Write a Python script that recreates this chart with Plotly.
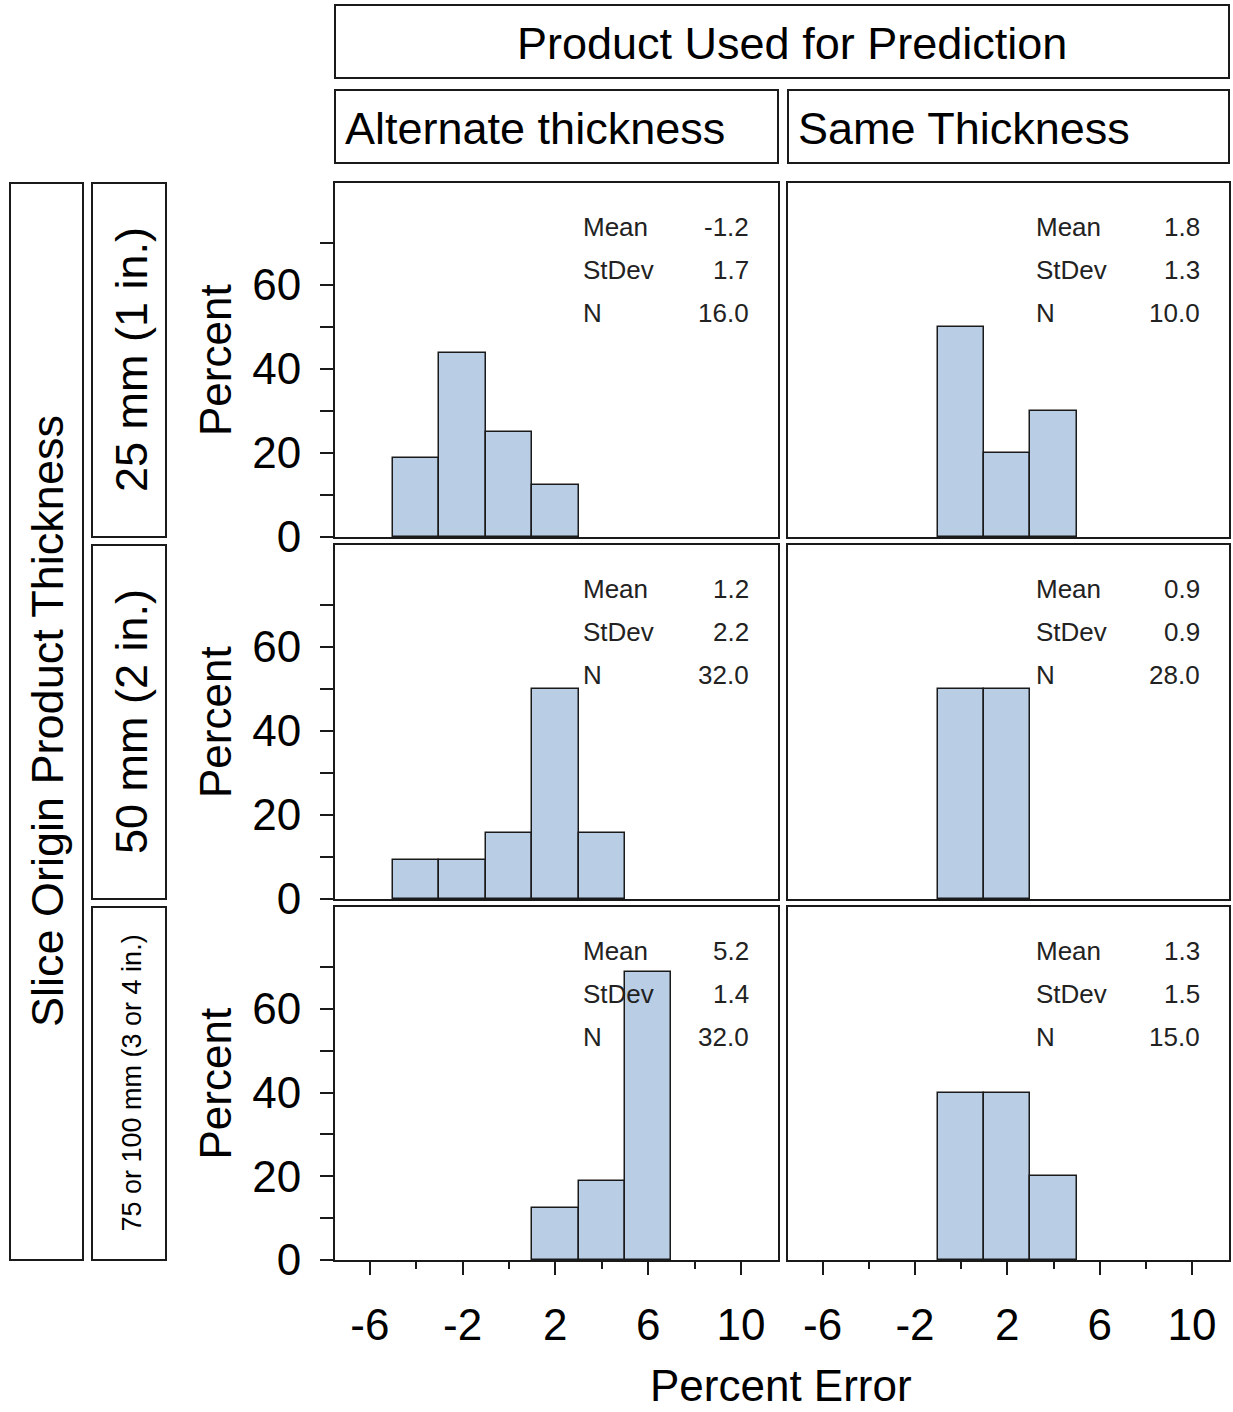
import plotly.graph_objects as go

W, H = 1233, 1412

# ---------------- data ----------------
col_names = ["Alternate thickness", "Same Thickness"]
row_names = ["25 mm (1 in.)", "50 mm (2 in.)", "75 or 100 mm (3 or 4 in.)"]

bin_width = 2

alt_25_x = [-4, -2, 0, 2]
alt_25_pct = [18.75, 43.75, 25.0, 12.5]
same_25_x = [0, 2, 4]
same_25_pct = [50.0, 20.0, 30.0]

alt_50_x = [-4, -2, 0, 2, 4]
alt_50_pct = [9.375, 9.375, 15.625, 50.0, 15.625]
same_50_x = [0, 2]
same_50_pct = [50.0, 50.0]

alt_75_x = [2, 4, 6]
alt_75_pct = [12.5, 18.75, 68.75]
same_75_x = [0, 2, 4]
same_75_pct = [40.0, 40.0, 20.0]

stat_labels = ["Mean", "StDev", "N"]
alt_25_stats = ["-1.2", "1.7", "16.0"]
same_25_stats = ["1.8", "1.3", "10.0"]
alt_50_stats = ["1.2", "2.2", "32.0"]
same_50_stats = ["0.9", "0.9", "28.0"]
alt_75_stats = ["5.2", "1.4", "32.0"]
same_75_stats = ["1.3", "1.5", "15.0"]

x_tickvals = [-6, -2, 2, 6, 10]
x_minor = [-4, 0, 4, 8]
y_tickvals = [0, 20, 40, 60]
y_minor = [10, 30, 50, 70]

panels = [
    [(alt_25_x, alt_25_pct, alt_25_stats), (same_25_x, same_25_pct, same_25_stats)],
    [(alt_50_x, alt_50_pct, alt_50_stats), (same_50_x, same_50_pct, same_50_stats)],
    [(alt_75_x, alt_75_pct, alt_75_stats), (same_75_x, same_75_pct, same_75_stats)],
]

# ---------------- layout geometry (pixels) ----------------
col_px = [(335, 778), (788, 1229)]
row_px = [(183, 537), (545, 899), (907, 1260)]

FONT = "Liberation Sans, Arial, sans-serif"
BAR_FILL = "#B9CDE5"
LINE = "#1a1a1a"


def px(x):
    return x / W


def py(y):
    return 1 - y / H


fig = go.Figure()
layout = {}
annotations = []
shapes = []

for r in range(3):
    for c in range(2):
        k = r * 2 + c + 1
        xs, ys, st = panels[r][c]
        xname = "x" if k == 1 else f"x{k}"
        yname = "y" if k == 1 else f"y{k}"
        fig.add_trace(go.Bar(
            x=xs, y=ys, width=bin_width,
            marker=dict(color=BAR_FILL, line=dict(color=LINE, width=1.5)),
            xaxis=xname, yaxis=yname, showlegend=False, hoverinfo="skip",
        ))
        x0, x1 = col_px[c]
        y0, y1 = row_px[r]
        xa = dict(
            domain=[px(x0), px(x1)], anchor=yname, range=[-7.5, 11.6],
            showline=True, mirror=True, linecolor=LINE, linewidth=2,
            showgrid=False, zeroline=False, fixedrange=True, automargin=False,
        )
        if r == 2:
            xa.update(
                ticks="outside", ticklen=13, tickwidth=2, tickcolor=LINE,
                tickvals=x_tickvals, ticktext=[str(v) for v in x_tickvals],
                tickfont=dict(family=FONT, size=44, color="black"),
                ticklabelstandoff=12,
                minor=dict(tickvals=x_minor, ticks="outside", ticklen=7,
                           tickwidth=2, tickcolor=LINE, showgrid=False),
            )
        else:
            xa.update(ticks="", showticklabels=False)
        ya = dict(
            domain=[py(y1), py(y0)], anchor=xname, range=[0, 84.3],
            showline=True, mirror=True, linecolor=LINE, linewidth=2,
            showgrid=False, zeroline=False, fixedrange=True, automargin=False,
        )
        if c == 0:
            ya.update(
                ticks="outside", ticklen=13, tickwidth=2, tickcolor=LINE,
                tickvals=y_tickvals, ticktext=[str(v) for v in y_tickvals],
                tickfont=dict(family=FONT, size=44, color="black"),
                ticklabelstandoff=10,
                minor=dict(tickvals=y_minor, ticks="outside", ticklen=13,
                           tickwidth=2, tickcolor=LINE, showgrid=False),
            )
        else:
            ya.update(ticks="", showticklabels=False)
        layout["xaxis" if k == 1 else f"xaxis{k}"] = xa
        layout["yaxis" if k == 1 else f"yaxis{k}"] = ya

        # statistics inset
        lab_x = x0 + 246
        val_x = x1 - 27
        for i, (lab, val) in enumerate(zip(stat_labels, st)):
            yy = y0 + 44 + 43 * i
            annotations.append(dict(
                x=px(lab_x), y=py(yy), xref="paper", yref="paper",
                text=lab, showarrow=False, xanchor="left", yanchor="middle",
                font=dict(family=FONT, size=26, color="#222")))
            annotations.append(dict(
                x=px(val_x), y=py(yy), xref="paper", yref="paper",
                text=val, showarrow=False, xanchor="right", yanchor="middle",
                font=dict(family=FONT, size=26, color="#222")))

    # "Percent" y titles per row
    y0, y1 = row_px[r]
    annotations.append(dict(
        x=px(215), y=py((y0 + y1) / 2), xref="paper", yref="paper",
        text="Percent", textangle=-90, showarrow=False,
        xanchor="center", yanchor="middle",
        font=dict(family=FONT, size=44, color="black")))


def box(x0, y0, x1, y1):
    shapes.append(dict(type="rect", xref="paper", yref="paper",
                       x0=px(x0), x1=px(x1), y0=py(y1), y1=py(y0),
                       line=dict(color=LINE, width=2), fillcolor="rgba(0,0,0,0)"))


HEAD = 45

# top header
box(335, 5, 1229, 78)
annotations.append(dict(
    x=px(792), y=py(44), xref="paper", yref="paper",
    text="Product Used for Prediction", showarrow=False,
    xanchor="center", yanchor="middle",
    font=dict(family=FONT, size=HEAD, color="black")))

# column headers
for c, name in enumerate(col_names):
    x0, x1 = col_px[c]
    box(x0, 90, x1, 163)
    annotations.append(dict(
        x=px(x0 + 8), y=py(129), xref="paper", yref="paper",
        text=name, showarrow=False, xanchor="left", yanchor="middle",
        font=dict(family=FONT, size=HEAD, color="black")))

# outer row header
box(10, 183, 83, 1260)
annotations.append(dict(
    x=px(47), y=py(721), xref="paper", yref="paper",
    text="Slice Origin Product Thickness", textangle=-90, showarrow=False,
    xanchor="center", yanchor="middle",
    font=dict(family=FONT, size=HEAD, color="black")))

# row headers
row_font_sizes = [HEAD, HEAD, 27]
for r, name in enumerate(row_names):
    y0, y1 = row_px[r]
    box(92, y0, 166, y1)
    annotations.append(dict(
        x=px(131), y=py((y0 + y1) / 2), xref="paper", yref="paper",
        text=name, textangle=-90, showarrow=False,
        xanchor="center", yanchor="middle",
        font=dict(family=FONT, size=row_font_sizes[r], color="black")))

# x title
annotations.append(dict(
    x=px(781), y=py(1385), xref="paper", yref="paper",
    text="Percent Error", showarrow=False, xanchor="center", yanchor="middle",
    font=dict(family=FONT, size=44, color="black")))

fig.update_layout(
    width=W, height=H,
    margin=dict(l=0, r=0, t=0, b=0, autoexpand=False),
    paper_bgcolor="white", plot_bgcolor="white",
    bargap=0, showlegend=False,
    annotations=annotations, shapes=shapes,
    font=dict(family=FONT, color="black"),
    **layout,
)

fig.write_html("out.html", config={"displayModeBar": False})
